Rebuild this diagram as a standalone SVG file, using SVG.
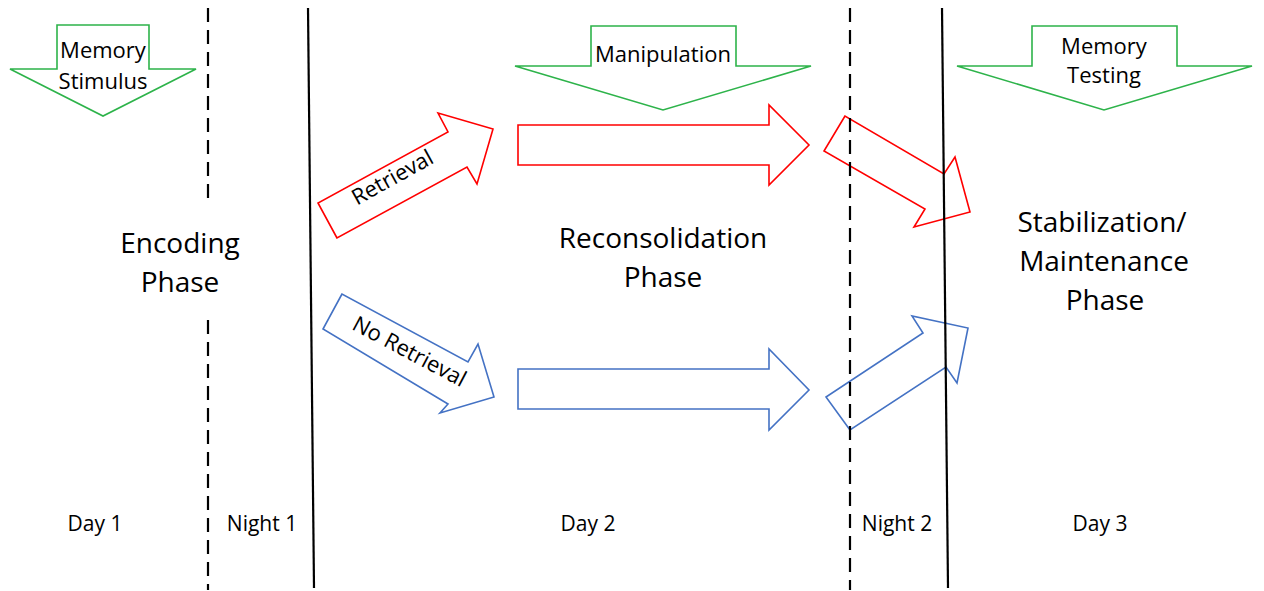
<svg xmlns="http://www.w3.org/2000/svg" width="1264" height="591" viewBox="0 0 1264 591">
<style>
text{font-family:"Open Sans","Noto Sans","Liberation Sans",sans-serif;fill:#000;text-anchor:middle}
.big{font-size:28px}
.lbl{font-size:22px}
.day{font-size:21px}
.g{fill:#fff;stroke:#2DB34A;stroke-width:1.6;stroke-linejoin:miter}
.r{fill:none;stroke:#FF0000;stroke-width:1.6}
.b{fill:none;stroke:#4472C4;stroke-width:1.6}
.dash{stroke:#000;stroke-width:2.2;stroke-dasharray:14 8;fill:none}
.solid{stroke:#000;stroke-width:2.2;fill:none}
</style>
<rect width="1264" height="591" fill="#fff"/>

<g id="memory-stimulus">
<polygon class="g" points="57,25 149,25 149,69 196,69 103,116 10,69 57,69"/>
<text class="lbl" x="103" y="58">Memory</text>
<text class="lbl" x="103" y="89">Stimulus</text>
</g>

<g id="manipulation">
<polygon class="g" points="591,26 736,26 736,66 811,66 663,110 515,66 591,66"/>
<text class="lbl" x="663" y="62">Manipulation</text>
</g>

<g id="memory-testing">
<polygon class="g" points="1032,26 1177,26 1177,66 1252,66 1104,110 957,66 1032,66"/>
<text class="lbl" x="1104" y="54">Memory</text>
<text class="lbl" x="1104" y="83">Testing</text>
</g>

<g id="encoding-phase">
<text class="big" x="180" y="253">Encoding</text>
<text class="big" x="180" y="292">Phase</text>
</g>

<g id="reconsolidation-phase">
<text class="big" x="663" y="248">Reconsolidation</text>
<text class="big" x="663" y="287">Phase</text>
</g>

<g id="stabilization-phase">
<text class="big" x="1102" y="232">Stabilization/</text>
<text class="big" x="1104" y="271">Maintenance</text>
<text class="big" x="1105" y="310">Phase</text>
</g>

<g id="retrieval-arrow">
<polygon class="r" points="337,238 318,203 448,132 438,113 493,129 477,184 467,167"/>
<text class="lbl" transform="translate(396,184) rotate(-29)">Retrieval</text>
</g>

<g id="no-retrieval-arrow">
<polygon class="b" points="342,294 323,329 448,404 440,413 494,397 478,344 468,362"/>
<text class="lbl" transform="translate(406,358) rotate(28)">No Retrieval</text>
</g>

<g id="red-straight-arrow">
<polygon class="r" points="518,125 769,125 769,105 809,145 769,185 769,165 518,165"/>
</g>

<g id="blue-straight-arrow">
<polygon class="b" points="518,369 769,369 769,349 809,390 769,430 769,409 518,409"/>
</g>

<g id="red-diagonal-arrow">
<polygon class="r" points="845,116 824,151 925,209 914,227 970,212 955,157 944,174"/>
</g>

<g id="blue-diagonal-arrow">
<polygon class="b" points="850,430 826,397 923,333 912,316 968,328 957,383 946,367"/>
</g>

<g id="connectors">
<line class="dash" x1="208" y1="8" x2="208" y2="203"/>
<line class="dash" x1="208" y1="320" x2="208" y2="590"/>
<line class="solid" x1="308" y1="8" x2="314" y2="588"/>
<line class="dash" x1="850" y1="8" x2="850" y2="590"/>
<line class="solid" x1="942" y1="8" x2="948" y2="588"/>
</g>

<g id="timeline-labels">
<text class="day" x="95" y="531">Day 1</text>
<text class="day" x="262" y="531">Night 1</text>
<text class="day" x="588" y="531">Day 2</text>
<text class="day" x="897" y="531">Night 2</text>
<text class="day" x="1100" y="531">Day 3</text>
</g>
</svg>
